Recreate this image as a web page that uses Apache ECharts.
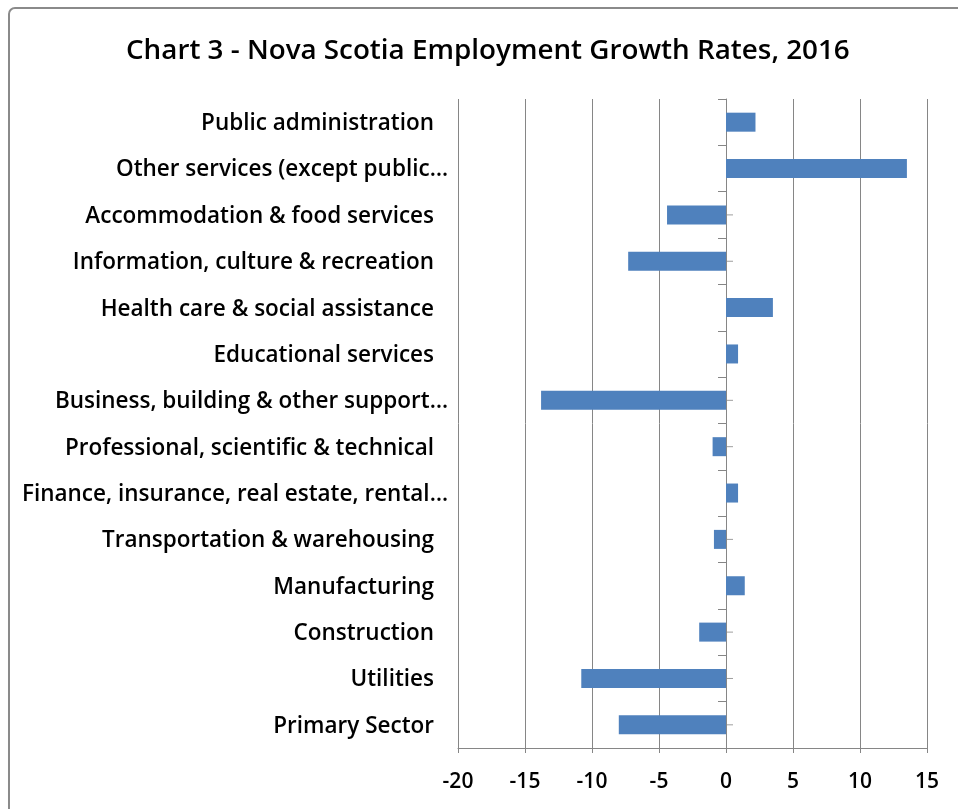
<!DOCTYPE html>
<html>
<head>
<meta charset="utf-8">
<script src="https://cdn.jsdelivr.net/npm/echarts@6/dist/echarts.min.js"></script>
<style>
  html, body { margin: 0; padding: 0; background: #fff; }
  #chart { width: 958px; height: 809px; }
</style>
</head>
<body>
<div id="chart"></div>
<script>
// Industries, listed top to bottom
const industries = [
  'Public administration',
  'Other services (except public\u2026',
  'Accommodation & food services',
  'Information, culture & recreation',
  'Health care & social assistance',
  'Educational services',
  'Business, building & other support\u2026',
  'Professional, scientific & technical',
  'Finance, insurance, real estate, rental\u2026',
  'Transportation & warehousing',
  'Manufacturing',
  'Construction',
  'Utilities',
  'Primary Sector'
];

// Employment growth rate, 2016 (%)
const growthRates = [2.2, 13.5, -4.4, -7.3, 3.5, 0.9, -13.8, -1.0, 0.9, -0.9, 1.4, -2.0, -10.8, -8.0];

// Value axis ticks
const axisMin = -20;
const axisMax = 15;
const axisStep = 5;

const FONT = '"Open Sans", "Liberation Sans", sans-serif';
const GRID_COLOR = '#868686';
const LABEL_SIZE = 22.5;
const TEXT_WEIGHT = 600;

const chart = echarts.init(document.getElementById('chart'), null, { renderer: 'canvas' });

chart.setOption({
  backgroundColor: '#ffffff',
  animation: false,
  title: {
    text: 'Chart 3 - Nova Scotia Employment Growth Rates, 2016',
    left: 121,
    top: 32,
    textStyle: { fontFamily: FONT, fontSize: 27.8, fontWeight: TEXT_WEIGHT, color: '#000' }
  },
  graphic: [{
    type: 'rect',
    shape: { x: 9, y: 8, width: 980, height: 840, r: 6 },
    style: { fill: 'none', stroke: '#8a8a8a', lineWidth: 2 },
    silent: true
  }],
  grid: { left: 458, right: 31, top: 99, bottom: 61, containLabel: false, outerBoundsMode: 'none' },
  xAxis: {
    type: 'value',
    min: axisMin,
    max: axisMax,
    interval: axisStep,
    axisLine: { show: true, lineStyle: { color: GRID_COLOR, width: 1 } },
    axisTick: { show: true, length: 5, lineStyle: { color: GRID_COLOR } },
    splitLine: { show: true, lineStyle: { color: GRID_COLOR, width: 1 } },
    axisLabel: { fontFamily: FONT, fontSize: 21, fontWeight: TEXT_WEIGHT, color: '#000', margin: 24 }
  },
  yAxis: [
    {
      // labels only, kept at the left edge of the plot
      type: 'category',
      data: industries,
      inverse: true,
      position: 'left',
      axisLine: { show: false, onZero: false },
      axisTick: { show: false },
      splitLine: { show: false },
      axisLabel: {
        margin: 10,
        // shortened names sit a little further right than the full ones
        formatter: v => (v.endsWith('\u2026') ? '{cut|' + v + '}' : '{full|' + v + '}'),
        rich: {
          full: { fontFamily: FONT, fontSize: LABEL_SIZE, fontWeight: TEXT_WEIGHT, color: '#000', padding: [3, 14, 0, 0] },
          cut: { fontFamily: FONT, fontSize: LABEL_SIZE, fontWeight: TEXT_WEIGHT, color: '#000', padding: [3, 0, 0, 0] }
        }
      }
    },
    {
      // category axis line crossing at zero, boundary ticks pointing left
      type: 'category',
      data: industries,
      inverse: true,
      position: 'left',
      axisLine: { show: true, onZero: true, lineStyle: { color: GRID_COLOR, width: 1 } },
      axisTick: { show: true, length: 8, lineStyle: { color: GRID_COLOR } },
      axisLabel: { show: false },
      splitLine: { show: false }
    }
  ],
  series: [
    {
      // short marks at each category centre, right of the zero line
      type: 'scatter',
      yAxisIndex: 1,
      data: industries.map(name => [0, name]),
      symbol: 'rect',
      symbolSize: [7, 1],
      symbolOffset: [3.5, 0],
      itemStyle: { color: GRID_COLOR },
      silent: true,
      z: 1
    },
    {
      type: 'bar',
      yAxisIndex: 0,
      data: growthRates,
      barCategoryGap: '59%',
      itemStyle: { color: '#4F81BD' },
      z: 2
    }
  ]
});
</script>
</body>
</html>
